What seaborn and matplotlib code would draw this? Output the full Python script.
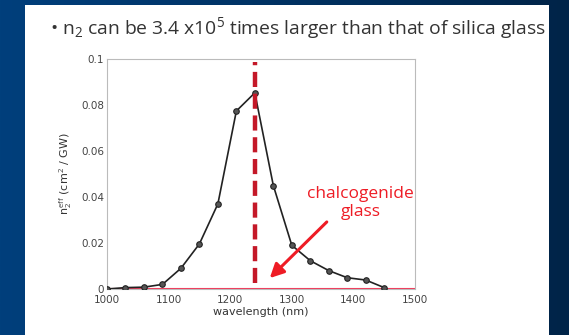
import numpy as np
import pandas as pd
import matplotlib
matplotlib.use("Agg")
import matplotlib.pyplot as plt
import seaborn as sns
from matplotlib.patches import Rectangle
from matplotlib.colors import LinearSegmentedColormap

wavelength = [1000, 1030, 1060, 1090, 1120, 1150, 1180, 1210, 1240, 1270,
              1300, 1330, 1360, 1390, 1420, 1450]
n2_eff = [0.0, 0.0006, 0.0008, 0.002, 0.009, 0.0196, 0.037, 0.0774, 0.0853,
          0.045, 0.019, 0.0123, 0.008, 0.0049, 0.0039, 0.0006]
x_ticks = [1000, 1100, 1200, 1300, 1400, 1500]
y_ticks = [0, 0.02, 0.04, 0.06, 0.08, 0.1]
y_tick_labels = ["0", "0.02", "0.04", "0.06", "0.08", "0.1"]
marker_wavelength = 1240
title = "\u2022 n$_2$ can be 3.4 x10$^5$ times larger than that of silica glass"
annotation = "chalcogenide\nglass"

df = pd.DataFrame({"wavelength": wavelength, "n2": n2_eff})

sns.set_theme(style="white")
plt.rcParams['font.family'] = ['Open Sans', 'DejaVu Sans']
plt.rcParams['mathtext.fontset'] = 'custom'
plt.rcParams['mathtext.rm'] = 'Open Sans'
plt.rcParams['mathtext.it'] = 'Open Sans'

W, H = 569, 335
fig = plt.figure(figsize=(W / 100, H / 100), dpi=100)

# background gradient
bg = fig.add_axes([0, 0, 1, 1])
grad = np.linspace(0, 1, 256).reshape(1, -1)
cmap = LinearSegmentedColormap.from_list("bg", ["#003f7c", "#002448"])
bg.imshow(grad, aspect="auto", cmap=cmap, extent=[0, 1, 0, 1])
bg.add_patch(Rectangle((25 / W, 0), (549 - 25) / W, (335 - 5) / H,
                       facecolor="white", edgecolor="none"))
bg.set_xlim(0, 1)
bg.set_ylim(0, 1)
bg.axis("off")

fig.text(50 / W, 1 - 34 / H, title, fontsize=13.9, color="#333333",
         ha="left", va="baseline", family="Open Sans")

ax = fig.add_axes([107 / W, (335 - 289) / H, 308 / W, 230 / H])
ax.set_facecolor("white")
ax.axhline(0, color="#f03a5a", lw=1.5, zorder=2)
sns.lineplot(data=df, x="wavelength", y="n2", ax=ax, color="#222222", lw=1.2,
             marker="o", markersize=4, markerfacecolor="#555555",
             markeredgecolor="#222222", markeredgewidth=0.8, zorder=3)
ax.axvline(marker_wavelength, ymin=0.026, ymax=0.985,
           color="#c41828", lw=3.2, dashes=(3.4, 1.5), zorder=4)
ax.set_xlim(1000, 1500)
ax.set_ylim(0, 0.1)
ax.set_xticks(x_ticks)
ax.set_yticks(y_ticks)
ax.set_yticklabels(y_tick_labels)
ax.tick_params(axis="both", labelsize=7.5, colors="#444444", length=2,
               direction="in")
ax.tick_params(axis="x", pad=4)
ax.tick_params(axis="y", pad=2)
for s in ax.spines.values():
    s.set_color("#bbbbbb")
    s.set_linewidth(0.8)
ax.set_xlabel("wavelength (nm)", fontsize=8, color="#333333", labelpad=2,
              family="DejaVu Sans")
ax.set_ylabel(r"n$_2^{eff}$ (cm$^2$ / GW)", fontsize=8, color="#333333",
              labelpad=5, family="DejaVu Sans")
for lab in ax.get_xticklabels() + ax.get_yticklabels():
    lab.set_family("DejaVu Sans")

ax.annotate("", xy=(1261, 0.0039), xytext=(1360, 0.030),
            arrowprops=dict(arrowstyle="-|>,head_length=0.7,head_width=0.35",
                            color="#ee1c25", lw=2.2), zorder=5)
ax.text(1412, 0.0375, annotation, color="#ee1c25", fontsize=12.5,
        ha="center", va="center", linespacing=1.2, clip_on=False,
        family="Open Sans", zorder=5)

fig.savefig("out.png", dpi=100)
